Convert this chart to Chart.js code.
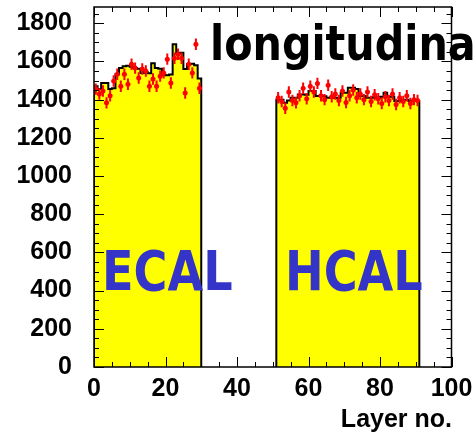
<!DOCTYPE html>
<html>
<head>
<meta charset="utf-8">
<script src="https://cdn.jsdelivr.net/npm/chart.js@4.4.1/dist/chart.umd.min.js"></script>
<style>
  html, body { margin: 0; padding: 0; background: #ffffff; }
  #wrap { width: 475px; height: 434px; }
</style>
</head>
<body>
<div id="wrap"><canvas id="c" width="475" height="434"></canvas></div>
<script>
// Layer ranges: ECAL layers 0..29, HCAL layers 51..90
const ecalFirstLayer = 0;
const hcalFirstLayer = 51;

// Simulated energy per layer (histogram)
const ecalSim = [1470, 1455, 1487, 1487, 1455, 1460, 1533, 1565, 1575, 1578,
                 1572, 1565, 1562, 1540, 1545, 1538, 1590, 1565, 1562, 1530,
                 1528, 1532, 1690, 1640, 1645, 1560, 1585, 1588, 1580, 1510];
const hcalSim = [1400, 1400, 1384, 1395, 1410, 1410, 1427, 1427, 1425, 1445,
                 1445, 1419, 1420, 1418, 1410, 1412, 1408, 1410, 1436, 1436,
                 1462, 1462, 1455, 1419, 1419, 1410, 1410, 1412, 1408, 1415,
                 1436, 1415, 1415, 1393, 1393, 1400, 1400, 1393, 1393, 1393];

// Measured energy per layer (points with errors)
const ecalData = [1455, 1430, 1445, 1383, 1420, 1497, 1533, 1470, 1533, 1480,
                  1585, 1565, 1513, 1560, 1550, 1470, 1508, 1470, 1523, 1540,
                  1612, 1487, 1617, 1638, 1617, 1435, 1585, 1540, 1690, 1460];
const hcalData = [1410, 1390, 1355, 1440, 1395, 1384, 1420, 1460, 1405, 1470,
                  1440, 1485, 1420, 1400, 1475, 1415, 1430, 1395, 1445, 1385,
                  1420, 1450, 1410, 1430, 1400, 1440, 1390, 1425, 1405, 1380,
                  1415, 1395, 1430, 1375, 1410, 1390, 1420, 1380, 1400, 1395];
const dataError = 30;

// Axis ticks
const xTicks = [0, 20, 40, 60, 80, 100];
const yTicks = [0, 200, 400, 600, 800, 1000, 1200, 1400, 1600, 1800];
const xRange = [0, 100];
const yRange = [0, 1885];

// Build a stepped outline (bin edges) for a block of consecutive layers
function histPoints(first, values) {
  const pts = [{ x: first, y: 0 }];
  values.forEach((v, i) => pts.push({ x: first + i, y: v }));
  pts.push({ x: first + values.length, y: 0 });
  return pts;
}
// Points at bin centres
function binCentres(first, values) {
  return values.map((v, i) => ({ x: first + i + 0.5, y: v }));
}

const measured = binCentres(ecalFirstLayer, ecalData).concat(binCentres(hcalFirstLayer, hcalData));

const histStyle = {
  type: 'line',
  stepped: true,
  fill: 'origin',
  backgroundColor: '#ffff00',
  borderColor: '#000000',
  borderWidth: 2,
  pointRadius: 0,
  order: 2
};

// Error bars drawn beneath the data markers
const errorBars = {
  id: 'errorBars',
  beforeDatasetDraw(chart, args) {
    if (args.index !== 0) return;
    const ctx = chart.ctx, xs = chart.scales.x, ys = chart.scales.y;
    ctx.save();
    ctx.strokeStyle = '#ff0000';
    ctx.lineWidth = 2;
    measured.forEach(p => {
      const px = xs.getPixelForValue(p.x), py = ys.getPixelForValue(p.y);
      ctx.beginPath();
      ctx.moveTo(px, ys.getPixelForValue(p.y - dataError));
      ctx.lineTo(px, ys.getPixelForValue(p.y + dataError));
      ctx.moveTo(xs.getPixelForValue(p.x - 0.5), py);
      ctx.lineTo(xs.getPixelForValue(p.x + 0.5), py);
      ctx.stroke();
    });
    ctx.restore();
  }
};

// Frame with inward ticks on all four sides, plus the text annotations
const frame = {
  id: 'frame',
  afterDatasetsDraw(chart) {
    const ctx = chart.ctx, a = chart.chartArea, xs = chart.scales.x, ys = chart.scales.y;
    ctx.save();
    ctx.strokeStyle = '#000000';
    ctx.lineWidth = 1;
    ctx.beginPath();
    for (let v = xRange[0]; v <= xRange[1]; v += 5) {
      const len = v % 20 === 0 ? 10 : 5;
      const px = Math.round(xs.getPixelForValue(v)) + 0.5;
      ctx.moveTo(px, a.bottom); ctx.lineTo(px, a.bottom - len);
      ctx.moveTo(px, a.top); ctx.lineTo(px, a.top + len);
    }
    for (let v = yRange[0]; v <= yRange[1]; v += 50) {
      const len = v % 200 === 0 ? 10 : 5;
      const py = Math.round(ys.getPixelForValue(v)) + 0.5;
      ctx.moveTo(a.left, py); ctx.lineTo(a.left + len, py);
      ctx.moveTo(a.right, py); ctx.lineTo(a.right - len, py);
    }
    ctx.stroke();
    ctx.lineWidth = 1.5;
    ctx.strokeRect(a.left, a.top, a.right - a.left, a.bottom - a.top);
    ctx.restore();
  },
  afterDraw(chart) {
    const ctx = chart.ctx;
    ctx.save();
    ctx.fillStyle = '#000000';
    ctx.font = 'bold 25px "Liberation Sans", Arial, sans-serif';
    ctx.textAlign = 'right';
    ctx.textBaseline = 'alphabetic';
    ctx.fillText('Layer no.', 452, 427);
    ctx.textAlign = 'left';
    ctx.font = 'bold 48px "DejaVu Sans", sans-serif';
    ctx.save();
    ctx.translate(210, 60);
    ctx.scale(0.86, 1);
    ctx.fillText('longitudinal', 0, 0);
    ctx.restore();
    ctx.fillStyle = '#3434c8';
    ctx.font = 'bold 55px "DejaVu Sans", sans-serif';
    [['ECAL', 102], ['HCAL', 285]].forEach(([t, x]) => {
      ctx.save();
      ctx.translate(x, 290);
      ctx.scale(0.84, 1);
      ctx.fillText(t, 0, 0);
      ctx.restore();
    });
    ctx.restore();
  }
};

const tickFont = { family: '"Liberation Sans", Arial, sans-serif', size: 25, weight: 'bold' };
const noPad = s => { s.paddingTop = 0; s.paddingBottom = 0; s.paddingLeft = 0; s.paddingRight = 0; };

new Chart(document.getElementById('c'), {
  type: 'line',
  data: {
    datasets: [
      {
        label: 'data',
        data: measured,
        showLine: false,
        pointRadius: 2.5,
        pointHoverRadius: 2.5,
        pointBackgroundColor: '#ff0000',
        pointBorderColor: '#ff0000',
        pointBorderWidth: 0,
        order: 0
      },
      Object.assign({ label: 'ECAL', data: histPoints(ecalFirstLayer, ecalSim) }, histStyle),
      Object.assign({ label: 'HCAL', data: histPoints(hcalFirstLayer, hcalSim) }, histStyle)
    ]
  },
  options: {
    responsive: false,
    animation: false,
    devicePixelRatio: 1,
    events: [],
    layout: { padding: { top: 7, right: 23.5, left: 0, bottom: 0 } },
    plugins: { legend: { display: false }, tooltip: { enabled: false } },
    scales: {
      x: {
        type: 'linear',
        min: xRange[0], max: xRange[1],
        grid: { display: false, drawTicks: false },
        border: { display: false },
        afterBuildTicks: s => { s.ticks = xTicks.map(v => ({ value: v })); },
        afterFit: s => { s.height = 67; noPad(s); },
        ticks: { color: '#000000', font: tickFont, padding: 7, maxRotation: 0, autoSkip: false,
                 callback: v => String(v) }
      },
      y: {
        type: 'linear',
        min: yRange[0], max: yRange[1],
        grid: { display: false, drawTicks: false },
        border: { display: false },
        afterBuildTicks: s => { s.ticks = yTicks.map(v => ({ value: v })); },
        afterFit: s => { s.width = 94; noPad(s); },
        ticks: { color: '#000000', font: tickFont, padding: 22, autoSkip: false,
                 callback: v => String(v) }
      }
    }
  },
  plugins: [errorBars, frame]
});
</script>
</body>
</html>
